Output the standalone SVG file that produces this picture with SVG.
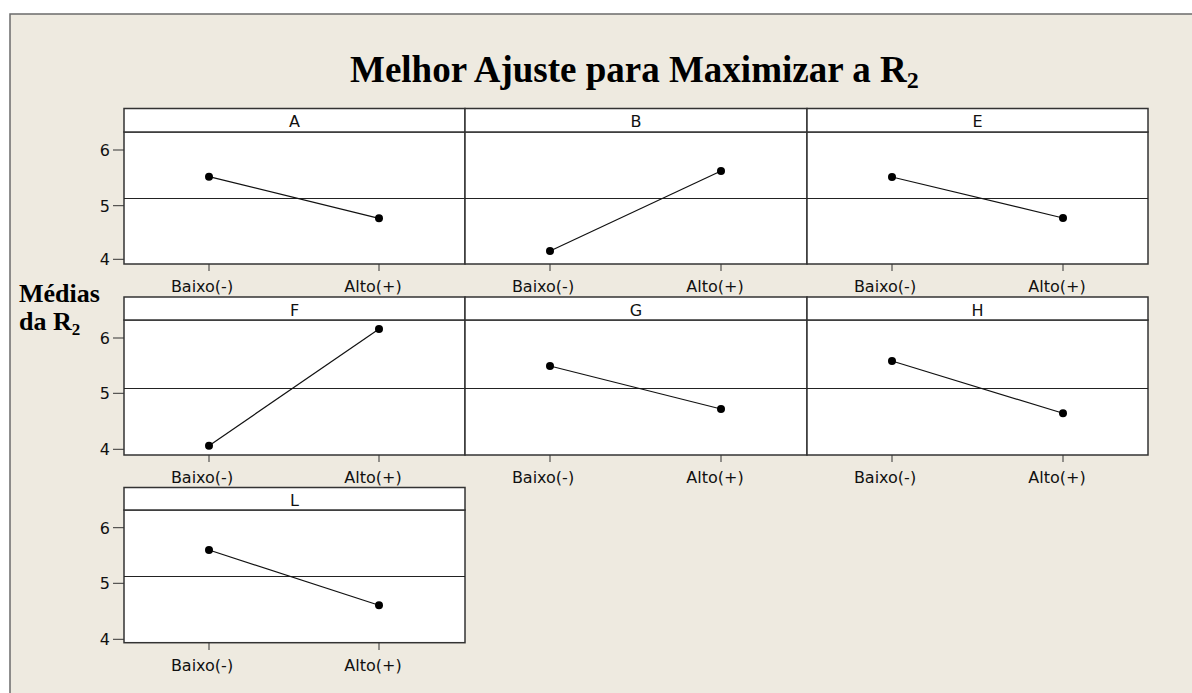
<svg xmlns="http://www.w3.org/2000/svg" width="1192" height="693" viewBox="0 0 1192 693">
<style>
.frame{fill:#EEEAE0;stroke:#6b6b6b;stroke-width:1.5}
.hdr{fill:#fff;stroke:#333;stroke-width:1.5}
.plot{fill:#fff;stroke:#333;stroke-width:1.5}
.ref{stroke:#222;stroke-width:1}
.tick{stroke:#333;stroke-width:1}
.dl{stroke:#111;stroke-width:1.2;fill:none}
.dot{fill:#000}
.lbl{font-family:"DejaVu Sans",Verdana,sans-serif;font-size:16px;fill:#111}
.ttl{font-family:"Liberation Serif","Times New Roman",serif;font-weight:bold;fill:#000}
</style>
<rect x="0" y="0" width="1192" height="693" fill="#fff"/>
<rect class="frame" x="10" y="14" width="1200" height="700"/>
<text class="ttl" x="350" y="82" font-size="37">Melhor Ajuste para Maximizar a R<tspan font-size="24" dy="6">2</tspan></text>
<text class="ttl" x="19" y="302" font-size="26">Médias</text>
<text class="ttl" x="19" y="330" font-size="26">da R<tspan font-size="17" dy="5">2</tspan></text>

<g id="panel-A">
<rect class="plot" x="124" y="132" width="341" height="132"/>
<rect class="hdr" x="124" y="108.5" width="341" height="23.5"/>
<text class="lbl" x="294.5" y="127" text-anchor="middle">A</text>
<line class="ref" x1="124" y1="198.5" x2="465" y2="198.5"/>
</g>
<g id="panel-B">
<rect class="plot" x="465" y="132" width="342" height="132"/>
<rect class="hdr" x="465" y="108.5" width="342" height="23.5"/>
<text class="lbl" x="636" y="127" text-anchor="middle">B</text>
<line class="ref" x1="465" y1="198.5" x2="807" y2="198.5"/>
</g>
<g id="panel-E">
<rect class="plot" x="807" y="132" width="341" height="132"/>
<rect class="hdr" x="807" y="108.5" width="341" height="23.5"/>
<text class="lbl" x="977.5" y="127" text-anchor="middle">E</text>
<line class="ref" x1="807" y1="198.5" x2="1148" y2="198.5"/>
</g>
<g id="panel-F">
<rect class="plot" x="124" y="320" width="341" height="135"/>
<rect class="hdr" x="124" y="297" width="341" height="23"/>
<text class="lbl" x="294.5" y="315.5" text-anchor="middle">F</text>
<line class="ref" x1="124" y1="388.5" x2="465" y2="388.5"/>
</g>
<g id="panel-G">
<rect class="plot" x="465" y="320" width="342" height="135"/>
<rect class="hdr" x="465" y="297" width="342" height="23"/>
<text class="lbl" x="636" y="315.5" text-anchor="middle">G</text>
<line class="ref" x1="465" y1="388.5" x2="807" y2="388.5"/>
</g>
<g id="panel-H">
<rect class="plot" x="807" y="320" width="341" height="135"/>
<rect class="hdr" x="807" y="297" width="341" height="23"/>
<text class="lbl" x="977.5" y="315.5" text-anchor="middle">H</text>
<line class="ref" x1="807" y1="388.5" x2="1148" y2="388.5"/>
</g>
<g id="panel-L">
<rect class="plot" x="124" y="510" width="341" height="132.7"/>
<rect class="hdr" x="124" y="487.5" width="341" height="22.5"/>
<text class="lbl" x="294.5" y="505.5" text-anchor="middle">L</text>
<line class="ref" x1="124" y1="576.5" x2="465" y2="576.5"/>
</g>

<g id="axes">
<!-- y ticks row 1 -->
<line class="tick" x1="113" y1="150" x2="124" y2="150"/>
<line class="tick" x1="113" y1="205.7" x2="124" y2="205.7"/>
<line class="tick" x1="113" y1="259.3" x2="124" y2="259.3"/>
<text class="lbl" x="110" y="156" text-anchor="end">6</text>
<text class="lbl" x="110" y="211.7" text-anchor="end">5</text>
<text class="lbl" x="110" y="265.3" text-anchor="end">4</text>
<!-- y ticks row 2 -->
<line class="tick" x1="113" y1="338" x2="124" y2="338"/>
<line class="tick" x1="113" y1="393.3" x2="124" y2="393.3"/>
<line class="tick" x1="113" y1="449.3" x2="124" y2="449.3"/>
<text class="lbl" x="110" y="344" text-anchor="end">6</text>
<text class="lbl" x="110" y="399.3" text-anchor="end">5</text>
<text class="lbl" x="110" y="455.3" text-anchor="end">4</text>
<!-- y ticks row 3 -->
<line class="tick" x1="113" y1="527.7" x2="124" y2="527.7"/>
<line class="tick" x1="113" y1="583.3" x2="124" y2="583.3"/>
<line class="tick" x1="113" y1="639.3" x2="124" y2="639.3"/>
<text class="lbl" x="110" y="533.7" text-anchor="end">6</text>
<text class="lbl" x="110" y="589.3" text-anchor="end">5</text>
<text class="lbl" x="110" y="645.3" text-anchor="end">4</text>

<!-- x ticks row 1 -->
<line class="tick" x1="209" y1="264" x2="209" y2="271"/>
<line class="tick" x1="379" y1="264" x2="379" y2="271"/>
<line class="tick" x1="550" y1="264" x2="550" y2="271"/>
<line class="tick" x1="721" y1="264" x2="721" y2="271"/>
<line class="tick" x1="892" y1="264" x2="892" y2="271"/>
<line class="tick" x1="1063" y1="264" x2="1063" y2="271"/>
<text class="lbl" x="202" y="292" text-anchor="middle">Baixo(-)</text>
<text class="lbl" x="373" y="292" text-anchor="middle">Alto(+)</text>
<text class="lbl" x="543" y="292" text-anchor="middle">Baixo(-)</text>
<text class="lbl" x="715" y="292" text-anchor="middle">Alto(+)</text>
<text class="lbl" x="885" y="292" text-anchor="middle">Baixo(-)</text>
<text class="lbl" x="1057" y="292" text-anchor="middle">Alto(+)</text>
<!-- x ticks row 2 -->
<line class="tick" x1="209" y1="455" x2="209" y2="462"/>
<line class="tick" x1="379" y1="455" x2="379" y2="462"/>
<line class="tick" x1="550" y1="455" x2="550" y2="462"/>
<line class="tick" x1="721" y1="455" x2="721" y2="462"/>
<line class="tick" x1="892" y1="455" x2="892" y2="462"/>
<line class="tick" x1="1063" y1="455" x2="1063" y2="462"/>
<text class="lbl" x="202" y="483" text-anchor="middle">Baixo(-)</text>
<text class="lbl" x="373" y="483" text-anchor="middle">Alto(+)</text>
<text class="lbl" x="543" y="483" text-anchor="middle">Baixo(-)</text>
<text class="lbl" x="715" y="483" text-anchor="middle">Alto(+)</text>
<text class="lbl" x="885" y="483" text-anchor="middle">Baixo(-)</text>
<text class="lbl" x="1057" y="483" text-anchor="middle">Alto(+)</text>
<!-- x ticks row 3 -->
<line class="tick" x1="209" y1="642.7" x2="209" y2="650"/>
<line class="tick" x1="379" y1="642.7" x2="379" y2="650"/>
<text class="lbl" x="202" y="671" text-anchor="middle">Baixo(-)</text>
<text class="lbl" x="373" y="671" text-anchor="middle">Alto(+)</text>
</g>

<g id="connectors">
<line class="dl" x1="209" y1="176.7" x2="379" y2="218.3"/>
<line class="dl" x1="550" y1="251" x2="721" y2="171"/>
<line class="dl" x1="892" y1="177" x2="1063" y2="218"/>
<line class="dl" x1="209" y1="445.7" x2="379" y2="329"/>
<line class="dl" x1="550" y1="366" x2="721" y2="409"/>
<line class="dl" x1="892" y1="361" x2="1063" y2="413.3"/>
<line class="dl" x1="209" y1="550" x2="379" y2="605.3"/>
</g>
<g id="points">
<circle class="dot" cx="209" cy="176.7" r="4"/><circle class="dot" cx="379" cy="218.3" r="4"/>
<circle class="dot" cx="550" cy="251" r="4"/><circle class="dot" cx="721" cy="171" r="4"/>
<circle class="dot" cx="892" cy="177" r="4"/><circle class="dot" cx="1063" cy="218" r="4"/>
<circle class="dot" cx="209" cy="445.7" r="4"/><circle class="dot" cx="379" cy="329" r="4"/>
<circle class="dot" cx="550" cy="366" r="4"/><circle class="dot" cx="721" cy="409" r="4"/>
<circle class="dot" cx="892" cy="361" r="4"/><circle class="dot" cx="1063" cy="413.3" r="4"/>
<circle class="dot" cx="209" cy="550" r="4"/><circle class="dot" cx="379" cy="605.3" r="4"/>
</g>
</svg>
